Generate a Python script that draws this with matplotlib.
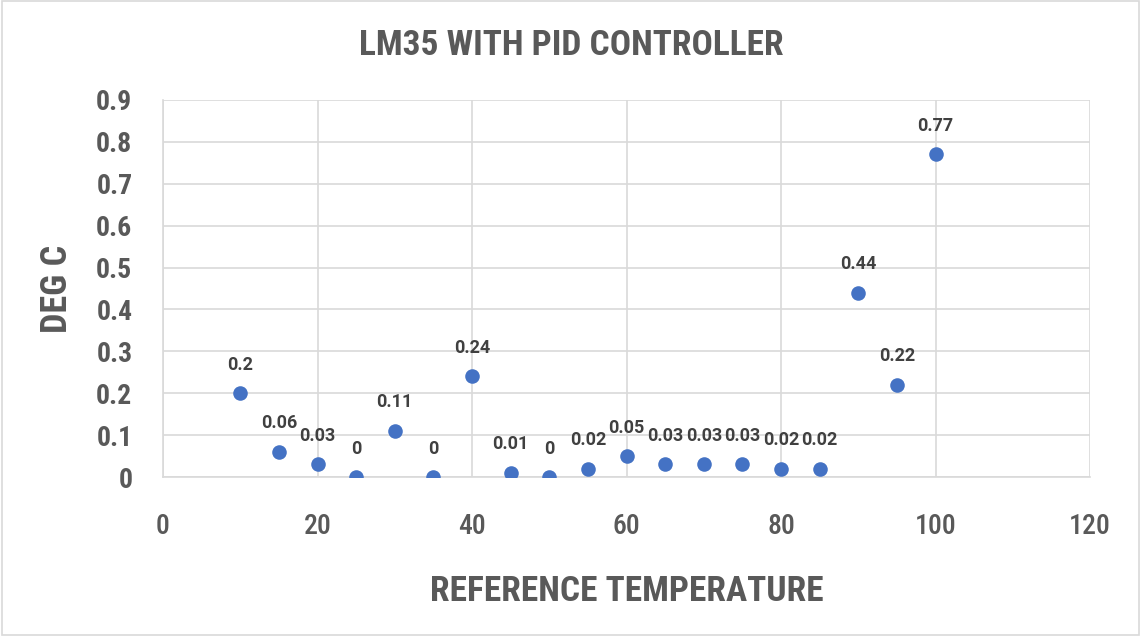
import matplotlib
matplotlib.use("Agg")
import matplotlib.pyplot as plt
from matplotlib.patches import Rectangle

ref_temp = [10, 15, 20, 25, 30, 35, 40, 45, 50, 55, 60, 65, 70, 75, 80, 85, 90, 95, 100]
deg_c = [0.2, 0.06, 0.03, 0, 0.11, 0, 0.24, 0.01, 0, 0.02, 0.05, 0.03, 0.03, 0.03, 0.02, 0.02, 0.44, 0.22, 0.77]
x_ticks = [0, 20, 40, 60, 80, 100, 120]
y_ticks = [0, 0.1, 0.2, 0.3, 0.4, 0.5, 0.6, 0.7, 0.8, 0.9]

cond = ['Roboto Condensed', 'DejaVu Sans']
gray = '#595959'

fig = plt.figure(figsize=(11.41, 6.36), dpi=100)
fig.patches.append(Rectangle((0.002, 0.002), 0.996, 0.996, transform=fig.transFigure,
                             fill=False, edgecolor='#d9d9d9', linewidth=1.2))
ax = fig.add_axes([0.1429, 0.25, 0.8124, 0.5928])
ax.scatter(ref_temp, deg_c, s=110, color='#4472c4', zorder=3, linewidths=0)
for x, y in zip(ref_temp, deg_c):
    ax.annotate(f"{y:g}", (x, y), xytext=(0, 14), textcoords='offset points',
                ha='center', va='bottom', fontsize=13, fontweight='bold',
                family='Roboto', color='#404040')
ax.set_xlim(0, 120)
ax.set_ylim(0, 0.9)
ax.set_xticks(x_ticks)
ax.set_yticks(y_ticks)
ax.set_xticklabels([str(t) for t in x_ticks], family=cond, fontsize=20, fontweight='medium', color=gray)
ax.set_yticklabels([f"{t:g}" for t in y_ticks], family=cond, fontweight='bold', fontsize=20, color=gray)
ax.tick_params(length=0)
ax.tick_params(axis='x', pad=26)
ax.tick_params(axis='y', pad=22)
ax.grid(True, color='#d9d9d9', linewidth=1.2)
ax.set_axisbelow(True)
for s in ['top', 'right']:
    ax.spines[s].set_visible(False)
for s in ['left', 'bottom']:
    ax.spines[s].set_color('#d9d9d9')
    ax.spines[s].set_linewidth(1.2)
fig.text(0.501, 1 - 45.5 / 636, 'LM35 WITH PID CONTROLLER', family=cond, fontsize=25.5,
         fontweight='bold', color=gray, ha='center', va='center')
ax.set_xlabel('REFERENCE TEMPERATURE', family=cond, fontsize=25.5, fontweight='bold',
              color=gray, labelpad=25)
ax.set_ylabel('DEG C', family=cond, fontsize=26, fontweight='bold', color=gray, labelpad=15)
fig.savefig('out.png', dpi=100)
